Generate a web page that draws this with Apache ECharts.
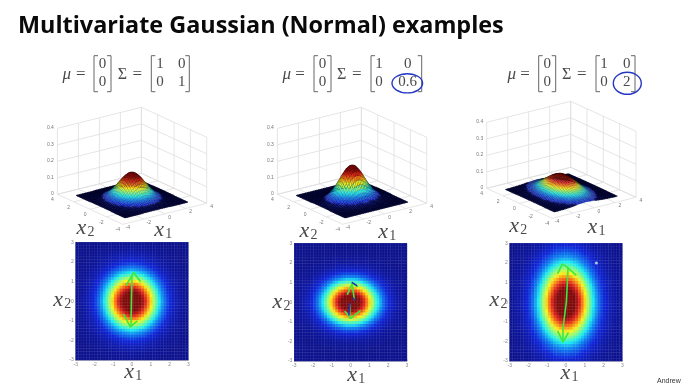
<!DOCTYPE html>
<html><head><meta charset="utf-8">
<style>html,body{margin:0;padding:0;background:#fff;overflow:hidden}#chart{width:683px;height:383px;filter:blur(.6px)}</style>
<script src="https://cdn.jsdelivr.net/npm/echarts@6/dist/echarts.min.js"></script>
</head><body><div id="chart"></div>
<script>
const titleText = 'Multivariate Gaussian (Normal) examples';
const muText = [['0'],['0']];
const sigmaTexts = [[['1','0'],['0','1']],[['1','0'],['0','0.6']],[['1','0'],['0','2']]];
const peakDensity = [0.16, 0.205, 0.113];
const heatTicks = [-3,-2,-1,0,1,2,3];
const planeTicks = [-4,-2,0,2,4];
const zTicks = [0,0.1,0.2,0.3,0.4];
// grid coordinates of the samples: -3..3 in 0.15 steps
const gridCoords = Array.from({length:41},(_,k)=>+(-3+k*0.15).toFixed(2));

// Percent of the peak. One quadrant (x1>=0, x2>=0); the pictures are mirror-symmetric.
const density1 = [
[100,99,96,90,84,76,67,58,49,40,33,26,20,15,11,8,6,4,3,2,1],
[99,98,95,89,83,75,66,57,48,40,32,25,20,15,11,8,6,4,3,2,1],
[96,95,91,86,80,72,64,55,47,38,31,24,19,14,11,8,5,4,2,2,1],
[90,89,86,82,75,68,60,52,44,36,29,23,18,13,10,7,5,4,2,2,1],
[84,83,80,75,70,63,56,48,41,34,27,21,17,12,9,7,5,3,2,1,1],
[76,75,72,68,63,57,50,43,37,30,25,19,15,11,8,6,4,3,2,1,1],
[67,66,64,60,56,50,44,38,32,27,22,17,13,10,7,5,4,3,2,1,1],
[58,57,55,52,48,43,38,33,28,23,19,15,11,9,6,5,3,2,1,1,1],
[49,48,47,44,41,37,32,28,24,20,16,12,10,7,5,4,3,2,1,1,1],
[40,40,38,36,34,30,27,23,20,16,13,10,8,6,4,3,2,2,1,1,0],
[33,32,31,29,27,25,22,19,16,13,11,8,6,5,4,3,2,1,1,1,0],
[26,25,24,23,21,19,17,15,12,10,8,7,5,4,3,2,1,1,1,0,0],
[20,20,19,18,17,15,13,11,10,8,6,5,4,3,2,2,1,1,1,0,0],
[15,15,14,13,12,11,10,9,7,6,5,4,3,2,2,1,1,1,0,0,0],
[11,11,11,10,9,8,7,6,5,4,4,3,2,2,1,1,1,0,0,0,0],
[8,8,8,7,7,6,5,5,4,3,3,2,2,1,1,1,0,0,0,0,0],
[6,6,5,5,5,4,4,3,3,2,2,1,1,1,1,0,0,0,0,0,0],
[4,4,4,4,3,3,3,2,2,2,1,1,1,1,0,0,0,0,0,0,0],
[3,3,2,2,2,2,2,1,1,1,1,1,1,0,0,0,0,0,0,0,0],
[2,2,2,2,1,1,1,1,1,1,1,0,0,0,0,0,0,0,0,0,0],
[1,1,1,1,1,1,1,1,1,0,0,0,0,0,0,0,0,0,0,0,0]];
const density2 = [
[100,99,96,90,84,76,67,58,49,40,33,26,20,15,11,8,6,4,3,2,1],
[98,97,94,88,82,75,66,57,48,39,32,26,20,15,11,8,6,4,3,2,1],
[93,92,89,84,78,71,62,54,45,37,31,24,19,14,10,7,6,4,3,2,1],
[85,84,81,76,71,64,57,49,41,34,28,22,17,13,9,7,5,3,3,2,1],
[74,73,71,67,62,56,50,43,36,30,24,19,15,11,8,6,4,3,2,1,1],
[63,62,60,56,53,48,42,36,31,25,21,16,13,9,7,5,4,3,2,1,1],
[51,50,49,46,43,39,34,30,25,20,17,13,10,8,6,4,3,2,2,1,1],
[40,39,38,36,34,30,27,23,20,16,13,10,8,6,4,3,2,2,1,1,0],
[30,30,29,27,25,23,20,17,15,12,10,8,6,5,3,2,2,1,1,1,0],
[22,22,21,20,18,17,15,13,11,9,7,6,4,3,2,2,1,1,1,0,0],
[15,15,15,14,13,12,10,9,7,6,5,4,3,2,2,1,1,1,0,0,0],
[10,10,10,9,9,8,7,6,5,4,3,3,2,2,1,1,1,0,0,0,0],
[7,7,6,6,6,5,4,4,3,3,2,2,1,1,1,1,0,0,0,0,0],
[4,4,4,4,4,3,3,2,2,2,1,1,1,1,0,0,0,0,0,0,0],
[3,2,2,2,2,2,2,1,1,1,1,1,1,0,0,0,0,0,0,0,0],
[2,1,1,1,1,1,1,1,1,1,0,0,0,0,0,0,0,0,0,0,0],
[1,1,1,1,1,1,1,0,0,0,0,0,0,0,0,0,0,0,0,0,0],
[0,0,0,0,0,0,0,0,0,0,0,0,0,0,0,0,0,0,0,0,0],
[0,0,0,0,0,0,0,0,0,0,0,0,0,0,0,0,0,0,0,0,0],
[0,0,0,0,0,0,0,0,0,0,0,0,0,0,0,0,0,0,0,0,0],
[0,0,0,0,0,0,0,0,0,0,0,0,0,0,0,0,0,0,0,0,0]];
const density3 = [
[100,99,96,90,84,76,67,58,49,40,33,26,20,15,11,8,6,4,3,2,1],
[99,98,95,89,83,76,67,58,49,40,33,26,20,15,11,8,6,4,3,2,1],
[98,97,94,88,82,74,66,57,48,39,32,25,20,15,11,8,6,4,3,2,1],
[95,94,91,86,80,72,64,55,47,38,31,25,19,14,10,8,6,4,3,2,1],
[91,90,88,82,77,69,61,53,45,37,30,24,18,14,10,7,5,4,3,2,1],
[87,86,83,78,73,66,58,50,43,35,29,23,17,13,10,7,5,3,3,2,1],
[82,81,78,74,69,62,55,47,40,33,27,21,16,12,9,7,5,3,2,2,1],
[76,75,73,68,64,58,51,44,37,30,25,20,15,11,8,6,5,3,2,2,1],
[70,69,67,63,59,53,47,40,34,28,23,18,14,10,8,6,4,3,2,1,1],
[63,63,61,57,53,48,42,37,31,25,21,16,13,10,7,5,4,3,2,1,1],
[57,56,55,51,48,43,38,33,28,23,19,15,11,9,6,5,3,2,2,1,1],
[51,50,49,46,43,38,34,29,25,20,17,13,10,8,6,4,3,2,2,1,1],
[45,44,43,40,37,34,30,26,22,18,15,12,9,7,5,4,3,2,1,1,0],
[39,38,37,35,32,29,26,22,19,15,13,10,8,6,4,3,2,2,1,1,0],
[33,33,32,30,28,25,22,19,16,13,11,9,7,5,4,3,2,1,1,1,0],
[28,28,27,25,24,21,19,16,14,11,9,7,6,4,3,2,2,1,1,1,0],
[24,23,23,21,20,18,16,14,12,9,8,6,5,4,3,2,1,1,1,0,0],
[20,20,19,18,17,15,13,11,10,8,7,5,4,3,2,2,1,1,1,0,0],
[16,16,15,15,14,12,11,9,8,6,5,4,3,2,2,1,1,1,0,0,0],
[13,13,13,12,11,10,9,8,6,5,4,3,3,2,1,1,1,1,0,0,0],
[11,10,10,9,9,8,7,6,5,4,3,3,2,2,1,1,1,0,0,0,0]];

// Hand-drawn annotation strokes, in x1/x2 units
const greenStrokes1 = [
 [[-.3,.82],[.09,1.46],[.44,1.02]],
 [[0,1.25],[-.03,0],[-.05,-1.22]],
 [[-.44,-.68],[-.09,-1.31],[.27,-1.02]]];
const greenStrokes2 = [
 [[-.16,.41],[.09,.97],[.37,.8]],
 [[.2,.12],[.09,.88]],
 [[-.04,-.14],[-.04,-.82]],
 [[-.3,-.48],[.02,-.82],[.5,-.44]]];
const greenStrokes3 = [
 [[-.43,1.48],[-.2,1.94],[.02,1.82],[.52,1.39]],
 [[.11,1.73],[.02,.03],[-.16,-1.33],[-.16,-2.0]],
 [[-.43,-1.5],[-.16,-2.04],[.11,-1.58]]];
const blueStrokes2 = [
 [[.09,1.0],[.32,.85]],
 [[.16,.2],[.2,.1]],
 [[-.04,-.07],[-.09,-.65]]];
const whiteDot3 = [[1.62,1.99]];

const densities = [density1,density2,density3];
const greenStrokes = [greenStrokes1,greenStrokes2,greenStrokes3];
const blueStrokes = [[],blueStrokes2,[]];
const spots = [[],[],whiteDot3];

// layout
const heatRects = [[75.7,242.3],[294.3,243.3],[509.7,243.3]];
const heatW = 112.6, heatH = 117.7;
const frontCorner = [[122.7,224.3],[342.7,224.3],[552,218.3]];
const dirX1 = [84,-21], dirX2 = [-65.3,-30], zScale = 165;
const jet = ['#0a0f8c','#0c22d8','#0a7cf0','#18ecf0','#82fa82','#f8f418','#f88010','#d81818','#7c0808'];
const serif = '"Liberation Serif","DejaVu Serif",serif';

function project(p,x1,x2,z){
  const f=frontCorner[p], a=(x1+4)/8, b=(x2+4)/8;
  return [f[0]+a*dirX1[0]+b*dirX2[0], f[1]+a*dirX1[1]+b*dirX2[1]-z*zScale];
}
function valueAt(p,i,j){ return densities[p][Math.abs(j-20)][Math.abs(i-20)]; }

const grid=[],xAxis=[],yAxis=[],series=[];
const vmSeries=[];
// pixel-plane cartesian for the projected 3D panels
grid.push({left:0,top:0,width:683,height:383});
xAxis.push({type:'value',min:0,max:683,show:false,gridIndex:0});
yAxis.push({type:'value',min:0,max:383,inverse:true,show:false,gridIndex:0});

[0,1,2].forEach(p=>{
  // wire box
  const seg=[];
  planeTicks.forEach(t=>{
    seg.push([t,4,0,t,4,.4]);            // wall x2=4 verticals
    seg.push([4,t,0,4,t,.4]);            // wall x1=4 verticals
    seg.push([t,-4,0,t,4,0]);            // floor
    seg.push([-4,t,0,4,t,0]);
  });
  zTicks.forEach(z=>{
    seg.push([-4,4,z,4,4,z]);
    seg.push([4,4,z,4,-4,z]);
  });
  series.push({type:'custom',xAxisIndex:0,yAxisIndex:0,silent:true,clip:false,data:seg,z:2,
    renderItem:(ps,api)=>{
      const a=api.coord(project(p,api.value(0),api.value(1),api.value(2)));
      const b=api.coord(project(p,api.value(3),api.value(4),api.value(5)));
      return {type:'line',shape:{x1:a[0],y1:a[1],x2:b[0],y2:b[1]},style:{stroke:'#dedede',lineWidth:.8,fill:null}};
    }});
  // tick labels
  const lab=[];
  zTicks.forEach(z=>lab.push([-4,4,z,String(z),-3.5,-.5,'right']));
  planeTicks.forEach(t=>lab.push([-4,t,0,String(t),-5,5.5,'center']));
  planeTicks.forEach(t=>lab.push([t,-4,0,String(t),5,3.5,'center']));
  series.push({type:'custom',xAxisIndex:0,yAxisIndex:0,silent:true,clip:false,data:lab,z:3,
    renderItem:(ps,api)=>{
      const d=lab[ps.dataIndex];
      const a=api.coord(project(p,d[0],d[1],d[2]));
      return {type:'text',style:{x:a[0]+d[4],y:a[1]+d[5],text:d[3],fill:'#777',font:'5px "Liberation Sans",sans-serif',align:d[6],verticalAlign:'middle'}};
    }});
  // surface quads, back to front
  const quads=[];
  for(let j=0;j<40;j++)for(let i=0;i<40;i++){
    quads.push([i,j,(valueAt(p,i,j)+valueAt(p,i+1,j)+valueAt(p,i,j+1)+valueAt(p,i+1,j+1))/4]);
  }
  quads.sort((a,b)=>(b[0]+b[1])-(a[0]+a[1]));
  vmSeries.push(series.length);
  series.push({type:'custom',xAxisIndex:0,yAxisIndex:0,silent:true,clip:false,data:quads,z:4,
    encode:{x:0,y:1},
    renderItem:(ps,api)=>{
      const i=api.value(0),j=api.value(1),v=api.value(2);
      const pts=[[i,j],[i+1,j],[i+1,j+1],[i,j+1]].map(c=>api.coord(project(p,gridCoords[c[0]],gridCoords[c[1]],valueAt(p,c[0],c[1])/100*peakDensity[p])));
      return {type:'polygon',shape:{points:pts},style:{fill:api.visual('color'),stroke:v<8?'rgba(0,0,20,.7)':'rgba(0,0,0,.3)',lineWidth:v<8?.8:.4}};
    }});
  // heatmap grid + overlay value grid
  const r=heatRects[p];
  const gi=grid.length;
  grid.push({left:r[0],top:r[1],width:heatW,height:heatH});
  xAxis.push({type:'category',gridIndex:gi,data:gridCoords.map(String),show:false});
  yAxis.push({type:'category',gridIndex:gi,data:gridCoords.map(String),show:false});
  const cells=[];
  for(let j=0;j<41;j++)for(let i=0;i<41;i++)cells.push([i,j,valueAt(p,i,j)]);
  vmSeries.push(series.length);
  series.push({type:'heatmap',xAxisIndex:gi,yAxisIndex:gi,data:cells,silent:true,z:2,
    itemStyle:{borderColor:'rgba(255,255,255,.16)',borderWidth:.4},progressive:0});
  const gv=grid.length;
  grid.push({left:r[0],top:r[1],width:heatW,height:heatH});
  const axisCommon={min:-3,max:3,interval:1,splitLine:{show:false},
    axisLine:{show:true,onZero:false,lineStyle:{color:'#b8b8b8',width:.8}},
    axisTick:{show:true,inside:true,length:1.5,lineStyle:{color:'#999',width:.5}},
    axisLabel:{fontSize:5,color:'#888',margin:2,fontFamily:'"Liberation Sans",sans-serif',showMinLabel:true,showMaxLabel:true}};
  xAxis.push(Object.assign({type:'value',gridIndex:gv,position:'bottom'},axisCommon));
  yAxis.push(Object.assign({type:'value',gridIndex:gv,position:'left'},axisCommon));
  greenStrokes[p].forEach(s=>series.push({type:'line',xAxisIndex:gv,yAxisIndex:gv,data:s,showSymbol:false,silent:true,z:6,
    lineStyle:{color:'#3ee83e',width:1.6,cap:'round',join:'round'}}));
  blueStrokes[p].forEach(s=>series.push({type:'line',xAxisIndex:gv,yAxisIndex:gv,data:s,showSymbol:false,silent:true,z:7,
    lineStyle:{color:'#1e2fc0',width:1.5,cap:'round'}}));
  if(spots[p].length)series.push({type:'scatter',xAxisIndex:gv,yAxisIndex:gv,data:spots[p],symbolSize:3,silent:true,z:7,itemStyle:{color:'#c8f5e8'}});
});

// equation + label graphics
const g=[];
function txt(x,y,t,size,opt){
  g.push({type:'text',x,y,silent:true,style:Object.assign({text:t,fill:'#4a4a4a',font:(opt&&opt.italic?'italic ':'')+size+'px '+serif,align:'center',verticalAlign:'middle'},opt&&opt.style)});
}
function bracket(x0,x1,y0,y1){
  g.push({type:'polyline',silent:true,shape:{points:[[x0+4,y0],[x0,y0],[x0,y1],[x0+4,y1]]},style:{stroke:'#666',lineWidth:1,fill:null}});
  g.push({type:'polyline',silent:true,shape:{points:[[x1-4,y0],[x1,y0],[x1,y1],[x1-4,y1]]},style:{stroke:'#666',lineWidth:1,fill:null}});
}
const eqLayout=[
 {mu:66.7,eq1:80.7,b:[94,111],sig:122.3,eq2:137.3,m:[151.3,189.3],cols:[160,181.7]},
 {mu:286.7,eq1:300,b:[314,331],sig:341.7,eq2:356.7,m:[371,421.7],cols:[379,407.7]},
 {mu:511.7,eq1:525,b:[538.7,555.7],sig:566.7,eq2:581.7,m:[596,635],cols:[604,626.7]}];
const rowY=[64.5,82.5];
eqLayout.forEach((e,p)=>{
  txt(e.mu,75,'\u03bc',17,{italic:true});
  txt(e.eq1,74.5,'=',17);
  bracket(e.b[0],e.b[1],55.7,91.7);
  muText.forEach((row,k)=>txt((e.b[0]+e.b[1])/2,rowY[k],row[0],15));
  txt(e.sig,74.5,'\u03a3',16);
  txt(e.eq2,74.5,'=',17);
  bracket(e.m[0],e.m[1],55.7,91.7);
  sigmaTexts[p].forEach((row,k)=>row.forEach((t,c)=>txt(e.cols[c],rowY[k],t,15)));
});
g.push({type:'ellipse',silent:true,shape:{cx:407.3,cy:83.3,rx:15.3,ry:9.6},style:{stroke:'#2538c4',lineWidth:1.4,fill:null}});
g.push({type:'ellipse',silent:true,shape:{cx:627.3,cy:83.3,rx:14,ry:11},style:{stroke:'#2538c4',lineWidth:1.4,fill:null}});
function mathLabel(cx,cy,sub){
  txt(cx-3.5,cy,'x',22,{italic:true});
  txt(cx+6,cy+4,sub,14);
}
[[85,228,'2'],[162.7,230,'1'],[308,231,'2'],[386.7,232,'1'],[517.7,226.7,'2'],[596,227.7,'1'],
 [61.7,300,'2'],[132.7,372,'1'],[281,302,'2'],[355.7,375,'1'],[498,300.7,'2'],[569,373,'1']].forEach(a=>mathLabel(a[0],a[1],a[2]));
g.push({type:'text',x:657,y:377.5,silent:true,style:{text:'Andrew Ng',fill:'#333',font:'7px "Liberation Sans",sans-serif'}});

const chart=echarts.init(document.getElementById('chart'));
chart.setOption({
  animation:false,backgroundColor:'#fff',
  title:{text:titleText,left:18,top:15,padding:0,textStyle:{fontFamily:'"Open Sans",sans-serif',fontWeight:'bold',fontSize:23.4,color:'#0a0a0a'}},
  grid,xAxis,yAxis,series,
  visualMap:{type:'continuous',show:false,min:0,max:88,dimension:2,seriesIndex:vmSeries,inRange:{color:jet}},
  graphic:g
});
</script></body></html>
